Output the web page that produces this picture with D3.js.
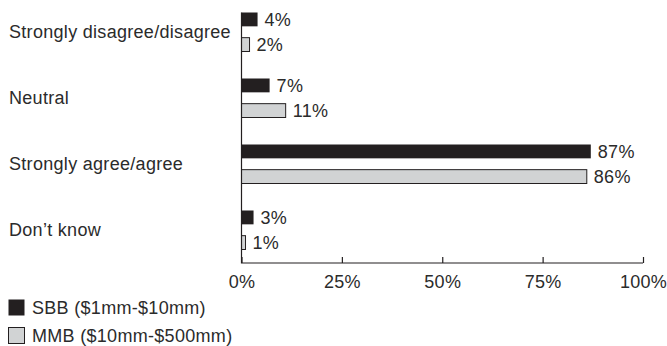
<!DOCTYPE html>
<html><head><meta charset="utf-8">
<script src="https://cdn.jsdelivr.net/npm/d3@7"></script>
<style>
body{margin:0;background:#fff;}
text{font-family:"Liberation Sans",Arial,sans-serif;fill:#2b2b2b;letter-spacing:0.3px;}
</style></head>
<body><svg id="c" width="667" height="346"></svg>
<script>
const categories = ["Strongly disagree/disagree","Neutral","Strongly agree/agree","Don\u2019t know"];
const seriesNames = ["SBB ($1mm-$10mm)","MMB ($10mm-$500mm)"];
const sbbValues = [4,7,87,3];
const mmbValues = [2,11,86,1];
const xTicks = [0,25,50,75,100];
const colors = ["#231f20","#d1d3d4"];

const svg = d3.select("#c");
const fs = 18;
const x = d3.scaleLinear().domain([0,100]).range([241.5,643]);
const y = d3.scaleBand().domain(categories).range([-1,263]).paddingInner(0).paddingOuter(0);
const inner = d3.scaleBand().domain([0,1]).range([13.5,52.5]).paddingInner(0.45);
const seriesVals = [sbbValues, mmbValues];

const data = [];
categories.forEach((c,i)=>{
  seriesVals.forEach((vals,s)=>data.push({c, s, v: vals[i]}));
});

// bars
svg.selectAll("rect.bar").data(data).enter().append("rect")
  .attr("class","bar")
  .attr("x", x(0))
  .attr("y", d=>y(d.c)+inner(d.s))
  .attr("width", d=>x(d.v)-x(0))
  .attr("height", inner.bandwidth())
  .attr("fill", d=>colors[d.s])
  .attr("stroke", d=>d.s===1?"#231f20":"none")
  .attr("stroke-width",1);

// value labels
svg.selectAll("text.val").data(data).enter().append("text")
  .attr("class","val")
  .attr("x", d=>x(d.v)+7)
  .attr("y", d=>y(d.c)+inner(d.s)+inner.bandwidth()/2)
  .attr("dy","0.36em")
  .attr("font-size",fs)
  .text(d=>d.v+"%");

// category labels
svg.selectAll("text.cat").data(categories).enter().append("text")
  .attr("class","cat")
  .attr("x", 9)
  .attr("y", d=>y(d)+y.bandwidth()/2)
  .attr("dy","0.36em")
  .attr("font-size",fs)
  .text(d=>d);

// axes
const yBase = 263;
const topY = y(categories[0]) + inner(0);
svg.append("path")
  .attr("d", `M${x(0)},${topY}V${yBase}H${x(100)}`)
  .attr("fill","none").attr("stroke","#231f20").attr("stroke-width",1.2);
const xAxis = d3.axisBottom(x).tickValues(xTicks).tickSize(-6).tickPadding(12).tickFormat(d=>d+"%");
const gx = svg.append("g").attr("transform",`translate(0,${yBase})`).call(xAxis);
gx.select(".domain").remove();
gx.selectAll(".tick line").attr("stroke","#231f20").attr("stroke-width",1.2);
gx.selectAll(".tick text").attr("font-size",fs).attr("font-family",'"Liberation Sans",Arial,sans-serif').attr("fill","#2b2b2b");

// legend
const lg = svg.selectAll("g.lg").data(seriesNames).enter().append("g")
  .attr("class","lg").attr("transform",(d,i)=>`translate(8,${299+i*28})`);
lg.append("rect").attr("x",0.5).attr("y",0.5).attr("width",16).attr("height",16)
  .attr("fill",(d,i)=>colors[i]).attr("stroke","#231f20").attr("stroke-width",(d,i)=>i===1?1:0);
lg.append("text").attr("x",24).attr("y",8.5).attr("dy","0.36em").attr("font-size",fs).text(d=>d);
</script></body></html>
